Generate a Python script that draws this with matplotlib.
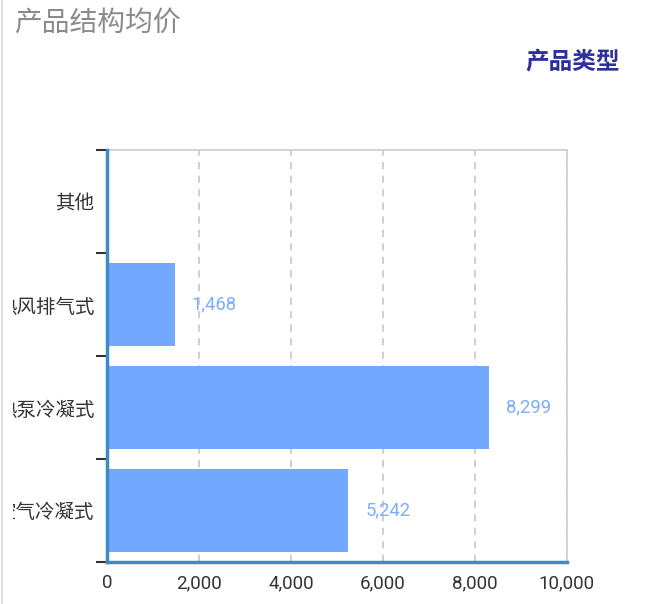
import matplotlib
matplotlib.use("Agg")
import matplotlib.pyplot as plt
from matplotlib.patches import Rectangle
from matplotlib.lines import Line2D

CJK = ["Noto Sans CJK SC", "DejaVu Sans"]
NUM = ["Roboto", "DejaVu Sans"]

TITLE = "产品结构均价"
LEGEND_TITLE = "产品类型"
categories = ["空气冷凝式", "热泵冷凝式", "热风排气式", "其他"]
avg_price = [5242, 8299, 1468, 0]
x_ticks = [0, 2000, 4000, 6000, 8000, 10000]

BAR_COLOR = "#72a8fe"
LABEL_COLOR = "#7aaefc"
AXIS_BLUE = "#3f8ac6"

fig = plt.figure(figsize=(6.5, 6.04), dpi=100)
fig.patch.set_facecolor("white")
ax = fig.add_axes([107 / 650, 42 / 604, 460 / 650, 412 / 604])

y = list(range(len(categories)))
ax.barh(y, avg_price, height=0.8, color=BAR_COLOR, zorder=3)
for yi, v in zip(y, avg_price):
    if v > 0:
        ax.text(v + 370, yi, f"{v:,}", va="center", ha="left",
                color=LABEL_COLOR, fontsize=13.3, family=NUM, zorder=4)

ax.set_xlim(0, 10000)
ax.set_ylim(-0.5, len(categories) - 0.5)
ax.set_xticks(x_ticks)
ax.set_xticklabels([f"{t:,}" for t in x_ticks], family=NUM, fontsize=13.5,
                   color="#333333")
ax.tick_params(axis="x", length=0, pad=9)

# category labels at centres, ticks at the boundaries
ax.set_yticks(y)
ax.set_yticklabels(categories, family=CJK, fontsize=14, color="#333333")
ax.tick_params(axis="y", which="major", length=0, pad=9)
ax.set_yticks([i - 0.5 for i in range(len(categories) + 1)], minor=True)
ax.tick_params(axis="y", which="minor", length=8, width=1.5, color="#333333")

ax.grid(axis="x", color="#cccccc", linestyle=(0, (4, 3.5)), linewidth=1.3,
        zorder=1)
ax.grid(axis="y", visible=False)

for side in ("top", "right"):
    ax.spines[side].set_color("#d0d0d0")
    ax.spines[side].set_linewidth(1.3)
for side in ("left", "bottom"):
    ax.spines[side].set_color(AXIS_BLUE)
    ax.spines[side].set_linewidth(2.5)
    ax.spines[side].set_zorder(5)

# the labels run off the left edge of the panel
fig.patches.append(Rectangle((0, 0), 13 / 650, 1, transform=fig.transFigure,
                             facecolor="white", edgecolor="none", zorder=10))
fig.lines.append(Line2D([2 / 650, 2 / 650], [0, 1], transform=fig.transFigure,
                        color="#d8d8d8", linewidth=1.2, zorder=11))

fig.text(14 / 650, 1 - 23 / 604, TITLE, family=CJK, fontsize=20,
         color="#8a8a8a", va="center", ha="left")
fig.text(620 / 650, 1 - 62 / 604, LEGEND_TITLE, family=CJK, fontsize=17,
         fontweight="bold", color="#2d2f9a", va="center", ha="right")

fig.savefig("out.png", dpi=100, facecolor=fig.get_facecolor())
